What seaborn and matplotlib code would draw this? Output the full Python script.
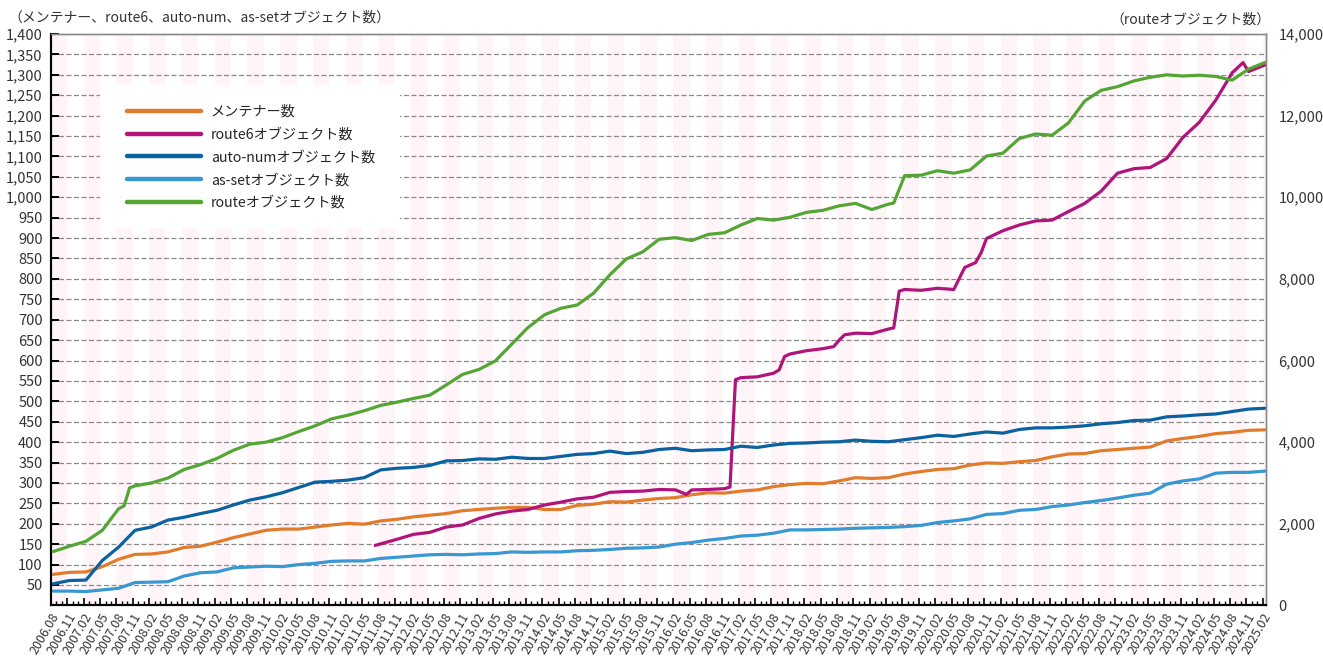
import numpy as np
import pandas as pd
import matplotlib
matplotlib.use("Agg")
import matplotlib.pyplot as plt
from matplotlib.lines import Line2D
from matplotlib.patches import Rectangle
from matplotlib.ticker import FixedLocator
import seaborn as sns

# 四半期ラベル (2006.08 - 2025.02)
quarter_labels = pd.date_range("2006-08-01", "2025-02-01", freq="3MS").strftime("%Y.%m").tolist()

# メンテナー数
maint = [76, 81, 82, 95, 113, 125, 126, 131, 142, 145, 155, 166, 175, 184, 187,
         187, 192, 197, 201, 199, 207, 211, 217, 221, 225, 232, 235, 238, 240, 240,
         235, 235, 245, 248, 254, 253, 258, 262, 264, 271, 276, 275, 280, 283, 291,
         296, 299, 298, 305, 313, 311, 313, 322, 328, 333, 335, 344, 349, 348, 352,
         355, 364, 371, 372, 379, 382, 385, 388, 403, 409, 414, 421, 424, 429, 430]

# auto-numオブジェクト数
autonum = [53, 61, 62, 110, 143, 184, 192, 209, 216, 225, 233, 246, 258, 266, 276,
           289, 302, 304, 307, 313, 332, 336, 338, 343, 354, 355, 359, 358, 363, 360,
           360, 365, 370, 372, 378, 372, 375, 382, 385, 379, 381, 382, 390, 387, 393,
           397, 398, 400, 401, 405, 402, 401, 406, 411, 417, 414, 420, 425, 422, 431,
           435, 435, 437, 440, 445, 448, 453, 454, 462, 464, 467, 469, 475, 481, 483]

# as-setオブジェクト数
asset = [35, 35, 34, 38, 42, 56, 57, 58, 72, 80, 82, 92, 94, 96, 95,
         100, 103, 108, 109, 109, 115, 118, 121, 124, 125, 124, 126, 127, 131, 130,
         131, 131, 134, 135, 137, 140, 141, 143, 150, 154, 160, 164, 170, 172, 177,
         185, 185, 186, 187, 189, 190, 191, 193, 196, 203, 207, 212, 223, 225, 233,
         235, 242, 246, 252, 257, 263, 270, 275, 297, 305, 310, 324, 326, 326, 329]

# route6オブジェクト数 (2011.11から)
route6 = [np.nan] * 21 + [
    162, 174, 179, 192, 197, 213, 224, 231, 235,
    246, 253, 261, 265, 277, 279, 280, 284, 283, 283, 284, 286, 558, 560, 569,
    616, 624, 629, 650, 667, 666, 677, 774, 772, 777, 774, 834, 899, 918, 932,
    942, 944, 965, 985, 1015, 1059, 1070, 1073, 1095, 1147, 1184, 1238, 1305, 1308, 1324]
route6_extra = {"2011.07": 147, "2016.04": 272, "2016.12": 290, "2017.01": 553,
                "2017.09": 577, "2017.10": 610, "2018.07": 634, "2018.09": 663,
                "2019.06": 680, "2019.07": 770, "2020.07": 828, "2020.09": 840,
                "2020.10": 864, "2024.10": 1330}

# routeオブジェクト数 (右軸)
route = [1320, 1450, 1570, 1840, 2370, 2930, 3000, 3120, 3330, 3450, 3600, 3800, 3950, 4000, 4110,
         4260, 4400, 4570, 4660, 4770, 4900, 4980, 5070, 5150, 5400, 5660, 5780, 5990, 6400, 6810,
         7120, 7280, 7360, 7650, 8100, 8490, 8660, 8970, 9010, 8940, 9090, 9130, 9320, 9480, 9440,
         9510, 9630, 9680, 9790, 9850, 9700, 9830, 10530, 10540, 10650, 10590, 10670, 11010, 11080, 11440,
         11550, 11520, 11820, 12360, 12620, 12710, 12850, 12940, 13000, 12970, 12990, 12960, 12870, 13140, 13300]
route_extra = {"2007.09": 2440, "2007.10": 2880, "2019.06": 9860}

names = ["メンテナー数", "route6オブジェクト数", "auto-numオブジェクト数", "as-setオブジェクト数", "routeオブジェクト数"]
colors = ["#E07C2C", "#B0147A", "#0A62A0", "#3898D2", "#54A634"]


def month_index(label):
    y, m = label.split(".")
    return (int(y) - 2006) * 12 + int(m) - 8


def series_frame(values, name, extra=None):
    d = pd.DataFrame({"label": quarter_labels, "value": values})
    if extra:
        d = pd.concat([d, pd.DataFrame({"label": list(extra), "value": list(extra.values())})])
    d = d.dropna()
    d["month"] = d["label"].map(month_index)
    d["series"] = name
    return d.sort_values("month")


left_df = pd.concat([
    series_frame(maint, names[0]),
    series_frame(route6, names[1], route6_extra),
    series_frame(autonum, names[2]),
    series_frame(asset, names[3]),
])
route_df = series_frame(route, names[4], route_extra)

sns.set_theme(style="white")
plt.rcParams["font.family"] = ["Noto Sans CJK JP", "DejaVu Sans"]

fig = plt.figure(figsize=(13.23, 6.62), dpi=100)
ax = fig.add_axes([51 / 1323, 56.6 / 662, 1215 / 1323, 571.4 / 662])
ax2 = ax.twinx()

n_months = 223
# 背景の縞
for start in range(0, n_months, 6):
    ax.axvspan(start - 0.4, start + 2.6, color="#FFF4F7", lw=0, zorder=0)
for v in range(50, 1400, 50):
    ax.axhline(v, color="#8a8a8a", lw=0.9, ls=(0, (4, 2)), zorder=0.5)
ax.add_patch(Rectangle((0.040, 0.660), 0.247, 0.251, transform=ax.transAxes,
                       fc="white", ec="none", zorder=1))

sns.lineplot(data=left_df, x="month", y="value", hue="series", hue_order=names[:4],
             palette=colors[:4], linewidth=2.3, legend=False, ax=ax, zorder=3)
sns.lineplot(data=route_df, x="month", y="value", color=colors[4],
             linewidth=2.3, legend=False, ax=ax2, zorder=3)

ax.set_xlim(-0.37, 222.2)
ax.set_ylim(0, 1400)
ax2.set_ylim(0, 14000)

yt = list(range(50, 1401, 50))
ax.set_yticks(yt)
ax.set_yticklabels([f"{v:,}" for v in yt])
ax.tick_params(axis="y", direction="in", length=6, width=1.4, color="black",
               labelsize=10.5, labelcolor="#333333", pad=6, left=True)

qm = [month_index(l) - 0.4 for l in quarter_labels]
ax.set_xticks(qm)
ax.set_xticklabels(quarter_labels, rotation=60, ha="right", rotation_mode="anchor",
                   fontsize=9, color="#333333")
ax.xaxis.set_minor_locator(FixedLocator([m - 0.4 for m in range(n_months)]))
ax.tick_params(axis="x", which="major", direction="in", length=5, width=1.2,
               color="black", pad=4, bottom=True)
ax.tick_params(axis="x", which="minor", direction="in", length=3, width=1.0,
               color="black", bottom=True)

rt = list(range(0, 14001, 2000))
ax2.set_yticks(rt)
ax2.set_yticklabels([f"{v:,}" for v in rt])
ax2.tick_params(axis="y", length=0, labelsize=10.5, labelcolor="#333333", pad=9)

ax.set_xlabel("")
ax.set_ylabel("")
ax2.set_ylabel("")

for a in (ax, ax2):
    a.spines["left"].set_color("black")
    a.spines["left"].set_linewidth(1.5)
    a.spines["bottom"].set_color("black")
    a.spines["bottom"].set_linewidth(1.5)
    a.spines["top"].set_color("#8a8a8a")
    a.spines["top"].set_linewidth(1.0)
    a.spines["right"].set_color("#8a8a8a")
    a.spines["right"].set_linewidth(1.0)

handles = [Line2D([0], [0], color=c, lw=3.2, solid_capstyle="round") for c in colors]
ax2.legend(handles, names, loc="upper left", bbox_to_anchor=(0.0626, 0.876),
           frameon=False, handlelength=5.2, handletextpad=0.7, labelspacing=0.62,
           fontsize=10.2, borderaxespad=0, borderpad=0)

fig.text(8 / 1323, 1 - 18 / 662, "（メンテナー、route6、auto-num、as-setオブジェクト数）",
         fontsize=10, color="#333333", va="center", ha="left")
fig.text(1270 / 1323, 1 - 20 / 662, "（routeオブジェクト数）",
         fontsize=10, color="#333333", va="center", ha="right")

fig.savefig("out.png", dpi=100, facecolor="white")
